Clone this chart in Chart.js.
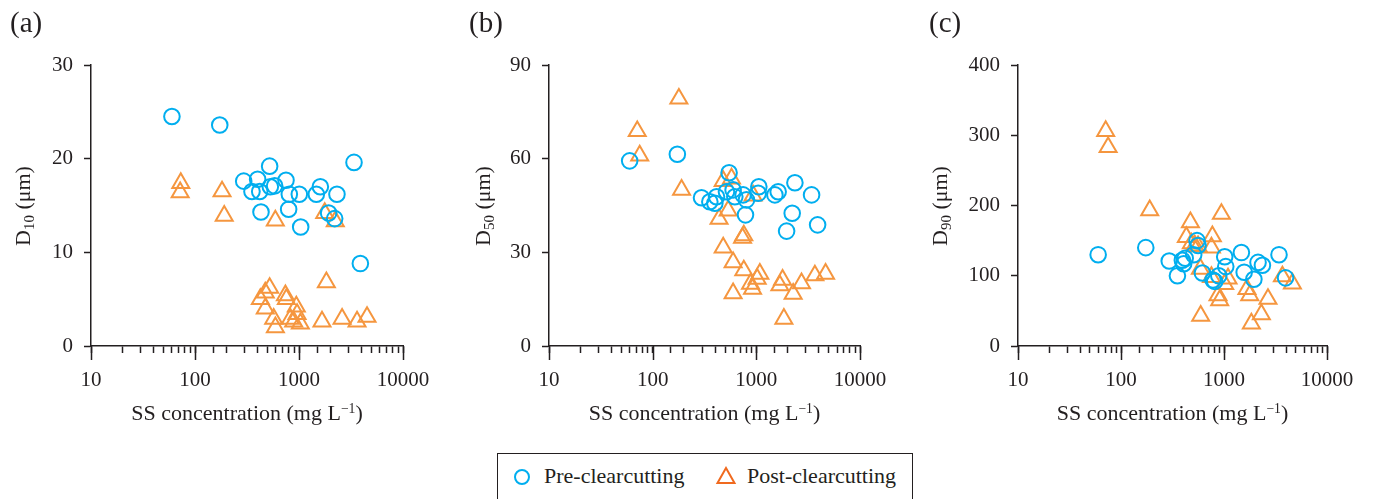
<!DOCTYPE html>
<html>
<head>
<meta charset="utf-8">
<script src="https://cdn.jsdelivr.net/npm/chart.js@4.4.1/dist/chart.umd.min.js"></script>
<style>
  body { margin: 0; background: #fff; width: 1374px; height: 499px; overflow: hidden; position: relative;
         font-family: "Liberation Serif", "Times New Roman", serif; color: #231f20; }
  canvas { position: absolute; top: 0; }
  .lbl { position: absolute; top: 8px; font-size: 29px; line-height: 1; }
  .xt { position: absolute; top: 400px; font-size: 22px; line-height: 26px; text-align: center; white-space: nowrap; }
  .yt { position: absolute; font-size: 22px; line-height: 26px; white-space: nowrap; transform: translate(-50%, -50%) rotate(-90deg); }
  sub { font-size: 0.68em; vertical-align: -0.3em; line-height: 0; }
  sup { font-size: 0.62em; vertical-align: 0.55em; line-height: 0; }
  #legend { position: absolute; left: 497px; top: 453px; width: 416px; height: 70px; border: 1.5px solid #231f20; box-sizing: border-box; }
  #legend svg, #legend span { position: absolute; }
  #legend span { font-size: 22px; line-height: 26px; top: 9px; white-space: nowrap; }
</style>
</head>
<body>
<canvas id="ca" width="460" height="440" style="left:0"></canvas>
<canvas id="cb" width="460" height="440" style="left:460px"></canvas>
<canvas id="cc" width="454" height="440" style="left:920px"></canvas>

<div class="lbl" style="left:10px">(a)</div>
<div class="lbl" style="left:469px">(b)</div>
<div class="lbl" style="left:929px">(c)</div>

<div class="yt" style="left:23px;top:206px">D<sub>10</sub> (μm)</div>
<div class="yt" style="left:483px;top:206px">D<sub>50</sub> (μm)</div>
<div class="yt" style="left:940px;top:206px">D<sub>90</sub> (μm)</div>

<div class="xt" style="left:91px;width:312px">SS concentration (mg L<sup>−1</sup>)</div>
<div class="xt" style="left:549px;width:311px">SS concentration (mg L<sup>−1</sup>)</div>
<div class="xt" style="left:1018px;width:309px">SS concentration (mg L<sup>−1</sup>)</div>

<div id="legend">
  <svg width="20" height="20" style="left:14px;top:13px"><circle cx="10" cy="10" r="7" fill="none" stroke="#00aeef" stroke-width="2"/></svg>
  <span style="left:46px">Pre-clearcutting</span>
  <svg width="22" height="20" style="left:217px;top:12px"><polygon points="11,2 19.5,17 2.5,17" fill="none" stroke="#f06a1f" stroke-width="2"/></svg>
  <span style="left:249px">Post-clearcutting</span>
</div>

<script>
// x values: SS concentration (mg/L), y values: grain size (um)
const decadeTicks = [10, 100, 1000, 10000];

const ssPreA  = [60, 173, 294, 353, 400, 419, 431, 522, 530, 583, 750, 795, 807, 1007, 1038, 1468, 1604, 1927, 2203, 2317, 3380, 3890];
const d10Pre  = [24.5, 23.6, 17.6, 16.5, 17.8, 16.5, 14.3, 19.2, 17.0, 17.1, 17.7, 14.6, 16.2, 16.2, 12.7, 16.2, 17.0, 14.2, 13.6, 16.2, 19.6, 8.8];
const ssPostA = [72, 73, 182, 191, 425, 474, 474, 522, 571, 592, 593, 740, 756, 826, 889, 942, 958, 1030, 1664, 1767, 1833, 2233, 2596, 3615, 4510];
const d10Post = [16.4, 17.4, 16.5, 13.9, 5.0, 5.7, 4.0, 6.2, 2.9, 13.4, 2.0, 5.4, 5.0, 2.9, 2.6, 4.2, 3.4, 2.4, 2.6, 14.2, 6.8, 13.3, 2.9, 2.6, 3.1];

const ssPreB  = [60, 173, 296, 356, 398, 413, 515, 546, 597, 620, 745, 786, 803, 1042, 1057, 1510, 1624, 1959, 2218, 2355, 3411, 3900];
const d50Pre  = [59.3, 61.4, 47.5, 46.2, 45.7, 47.8, 49.4, 55.5, 50.0, 47.8, 48.4, 42.0, 46.8, 48.9, 51.0, 48.4, 49.4, 36.8, 42.5, 52.3, 48.4, 38.8];
const ssPostB = [71, 75, 179, 190, 437, 479, 479, 535, 576, 597, 597, 736, 757, 757, 879, 919, 931, 1019, 1081, 1687, 1791, 1844, 2266, 2727, 3671, 4654];
const d50Post = [68.8, 61.0, 79.2, 50.0, 40.7, 52.8, 31.5, 43.4, 53.6, 26.8, 16.9, 34.6, 35.4, 24.2, 19.9, 18.3, 48.2, 21.5, 23.1, 19.4, 21.2, 8.7, 16.7, 20.1, 22.6, 23.1];

const ssPreC  = [60, 174, 294, 353, 394, 406, 420, 508, 547, 560, 617, 782, 813, 890, 1016, 1040, 1475, 1570, 1950, 2140, 2360, 3420, 3960];
const d90Pre  = [130, 140, 121, 100, 122, 117, 125, 130, 150, 143, 104, 94, 92, 100, 127, 113, 133, 105, 95, 119, 115, 130, 97];
const ssPostC = [71, 75, 190, 431, 472, 482, 520, 560, 590, 594, 755, 755, 771, 875, 908, 944, 1016, 1094, 1671, 1778, 1844, 2306, 2673, 3690, 4614];
const d90Post = [306, 283, 193, 155, 176, 146, 143, 142, 110, 43, 140, 98, 156, 72, 65, 188, 88, 96, 81, 72, 32, 45, 67, 99, 89];

const yTicksA = [0, 10, 20, 30];
const yTicksB = [0, 30, 60, 90];
const yTicksC = [0, 100, 200, 300, 400];

const ink = '#231f20';
const blue = '#00aeef';
const orange = '#f5963f';
const serif = '"Liberation Serif", "Times New Roman", serif';

const toPoints = (xs, ys) => xs.map((x, i) => ({ x: x, y: ys[i] }));

// longer tick marks at each decade of the log axis
const decadeTickMarks = {
  id: 'decadeTickMarks',
  afterDraw(chart) {
    const sx = chart.scales.x;
    const ctx = chart.ctx;
    ctx.save();
    ctx.strokeStyle = ink;
    ctx.lineWidth = 1.5;
    decadeTicks.forEach(v => {
      const px = Math.round(sx.getPixelForValue(v)) + 0.5;
      ctx.beginPath();
      ctx.moveTo(px, sx.top);
      ctx.lineTo(px, sx.top + 14);
      ctx.stroke();
    });
    ctx.restore();
  }
};

function makePanel(id, pre, post, yTicks, pad) {
  const ctx = document.getElementById(id).getContext('2d');
  return new Chart(ctx, {
    type: 'scatter',
    data: {
      datasets: [{
        label: 'Pre-clearcutting',
        data: pre,
        pointStyle: 'circle',
        pointRadius: 7.8,
        borderWidth: 2,
        borderColor: blue,
        backgroundColor: 'rgba(0,0,0,0)'
      }, {
        label: 'Post-clearcutting',
        data: post,
        pointStyle: 'triangle',
        pointRadius: 9.8,
        borderWidth: 2,
        borderColor: orange,
        backgroundColor: 'rgba(0,0,0,0)'
      }]
    },
    options: {
      responsive: false,
      animation: false,
      devicePixelRatio: 1,
      layout: { padding: pad },
      plugins: { legend: { display: false }, tooltip: { enabled: false } },
      scales: {
        x: {
          type: 'logarithmic',
          min: decadeTicks[0],
          max: decadeTicks[decadeTicks.length - 1],
          afterFit: s => { s.height = 40; },
          grid: { display: true, drawOnChartArea: false, drawTicks: true, tickLength: 7, tickWidth: 1.5, tickColor: ink },
          border: { display: true, color: ink, width: 1.5 },
          ticks: {
            autoSkip: false,
            maxRotation: 0,
            padding: 15,
            color: ink,
            font: { family: serif, size: 21 },
            callback: v => decadeTicks.includes(Math.round(v)) ? String(Math.round(v)) : ''
          }
        },
        y: {
          min: yTicks[0],
          max: yTicks[yTicks.length - 1],
          afterFit: s => { s.width = 51; },
          grid: { display: true, drawOnChartArea: false, drawTicks: true, tickLength: 7, tickWidth: 1.5, tickColor: ink },
          border: { display: true, color: ink, width: 1.5 },
          ticks: {
            stepSize: yTicks[1] - yTicks[0],
            padding: 11,
            color: ink,
            font: { family: serif, size: 21 }
          }
        }
      }
    },
    plugins: [decadeTickMarks]
  });
}

makePanel('ca', toPoints(ssPreA, d10Pre), toPoints(ssPostA, d10Post), yTicksA, { left: 40, right: 57, top: 65, bottom: 54 });
makePanel('cb', toPoints(ssPreB, d50Pre), toPoints(ssPostB, d50Post), yTicksB, { left: 38, right: 60, top: 65, bottom: 54 });
makePanel('cc', toPoints(ssPreC, d90Pre), toPoints(ssPostC, d90Post), yTicksC, { left: 47, right: 47, top: 65, bottom: 54 });
</script>
</body>
</html>
